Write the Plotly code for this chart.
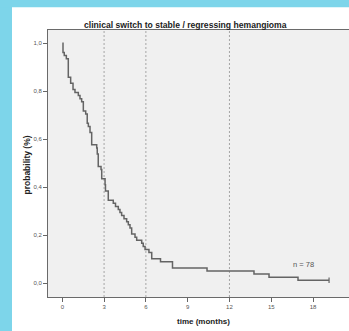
import plotly.graph_objects as go

N_TOTAL = 78
# Kaplan-Meier step curve: event times (months) and number remaining after each event
event_times = [0.05, 0.14, 0.29, 0.43, 0.60, 0.77, 0.91, 1.15, 1.27, 1.39, 1.51, 1.68,
               1.79, 1.87, 1.99, 2.11, 2.47, 2.51, 2.58, 2.78, 2.83, 3.07, 3.10, 3.30,
               3.66, 3.82, 4.02, 4.14, 4.26, 4.43, 4.62, 4.74, 4.86, 4.98, 5.22, 5.34,
               5.70, 5.81, 5.94, 6.22, 6.42, 7.05, 7.91, 10.39, 13.76, 14.84, 16.92]
remaining = [75, 74, 73, 67, 65, 63, 62, 61, 60, 59, 56, 55,
             52, 51, 49, 45, 44, 42, 38, 37, 34, 32, 30, 27,
             26, 25, 24, 23, 22, 21, 20, 19, 18, 16, 15, 14,
             13, 12, 11, 10, 8, 7, 5, 4, 3, 2, 1]
last_followup = 19.15
ref_lines = [3, 6, 12]
x_ticks = [0, 3, 6, 9, 12, 15, 18]
y_ticks = [0.0, 0.2, 0.4, 0.6, 0.8, 1.0]

times = [0] + event_times + [last_followup]
surv = [1.0] + [r / N_TOTAL for r in remaining] + [remaining[-1] / N_TOTAL]

W, H = 349, 331
L, R, T, B = 48, 0, 30, 34
pw, ph = W - L - R, H - T - B

def px(xp):  # pixel x -> paper
    return (xp - L) / pw

def py(yp):  # pixel y -> paper
    return (H - B - yp) / ph

line_col = "#646464"
fig = go.Figure()
fig.add_trace(go.Scatter(x=times, y=surv, mode="lines", line=dict(shape="hv", color=line_col, width=1.5),
                         hoverinfo="skip", showlegend=False))
fig.add_trace(go.Scatter(x=[times[-1]], y=[surv[-1]], mode="markers",
                         marker=dict(symbol="line-ns", size=4, line=dict(color=line_col, width=1.2)),
                         showlegend=False, hoverinfo="skip"))

shapes = []
for r in ref_lines:
    shapes.append(dict(type="line", xref="x", yref="paper", x0=r, x1=r, y0=0, y1=1,
                       line=dict(color="#a5a5a5", width=1, dash="2px,2px"), layer="below"))
blue = "#7dd5ea"
shapes.append(dict(type="rect", xref="paper", yref="paper", x0=px(-2), x1=px(12), y0=py(H + 2), y1=py(-2),
                   fillcolor=blue, line=dict(width=0)))
shapes.append(dict(type="rect", xref="paper", yref="paper", x0=px(-2), x1=px(W + 2), y0=py(7.3), y1=py(-2),
                   fillcolor=blue, line=dict(width=0)))

font = "Liberation Sans, Arial, sans-serif"
fig.update_layout(
    width=W, height=H, margin=dict(l=L, r=R, t=T, b=B, autoexpand=False),
    paper_bgcolor="white", plot_bgcolor="#f0f0f0",
    separators=",.",
    font=dict(family=font, size=6, color="#555555"),
    shapes=shapes,
    xaxis=dict(range=[(L - 62.3) / 13.93, (W - 62.3) / 13.93], tickvals=x_ticks, ticks="outside", ticklen=4,
               tickcolor="#666", showline=True, linecolor="#6a6a6a", linewidth=1, mirror=True,
               showgrid=False, zeroline=False, tickfont=dict(size=6, color="#555")),
    yaxis=dict(range=[(283.3 - (H - B)) / 240, (283.3 - T) / 240], tickvals=y_ticks, tickformat=".1f",
               ticks="outside", ticklen=4, tickcolor="#666", showline=True, linecolor="#6a6a6a",
               linewidth=1, mirror=True, showgrid=False, zeroline=False,
               tickfont=dict(size=6, color="#555")),
    annotations=[
        dict(text="<b>clinical switch to stable / regressing hemangioma</b>", xref="paper", yref="paper",
             x=px(185), y=py(24.5), xanchor="center", yanchor="middle", showarrow=False,
             font=dict(size=8.6, color="#222", family=font)),
        dict(text="<b>probability (%)</b>", xref="paper", yref="paper", x=px(26), y=py(164.5),
             xanchor="center", yanchor="middle", textangle=-90, showarrow=False,
             font=dict(size=8.5, color="#222", family=font)),
        dict(text="<b>time (months)</b>", xref="paper", yref="paper", x=px(203), y=py(321.5),
             xanchor="center", yanchor="middle", showarrow=False,
             font=dict(size=8, color="#222", family=font)),
        dict(text="n = 78", xref="x", yref="y", x=17.3, y=0.08, xanchor="center", yanchor="middle",
             showarrow=False, font=dict(size=7.5, color="#555", family=font)),
    ],
)
fig.write_html("out.html", config={"displayModeBar": False},
               post_script="document.body.style.margin='0';document.body.style.overflow='hidden';")
